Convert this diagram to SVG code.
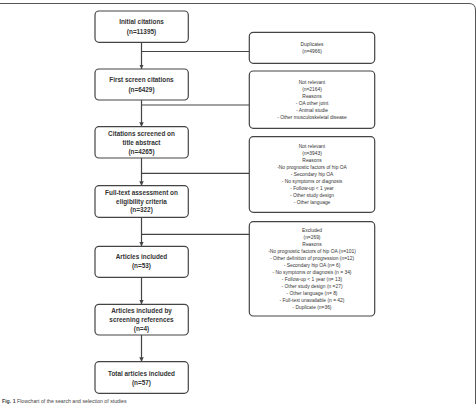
<svg xmlns="http://www.w3.org/2000/svg" width="476" height="404" viewBox="0 0 476 404">
<defs>
<style>
.frame{fill:none;stroke:#555;stroke-width:1}
.box{fill:#fff;stroke:#444;stroke-width:1.2}
.lt{font-family:"Liberation Sans",Arial,sans-serif;font-weight:bold;font-size:6.4px;fill:#333;text-anchor:middle}
.rt{font-family:"Liberation Sans",Arial,sans-serif;font-size:4.9px;fill:#333;text-anchor:middle}
.cap{font-family:"Liberation Sans",Arial,sans-serif;font-size:5.2px;fill:#444}
.ln{fill:none;stroke:#444;stroke-width:1.2}
</style>
<marker id="ah" viewBox="0 0 10 10" refX="10" refY="5" markerWidth="4.5" markerHeight="4.5" orient="auto" markerUnits="userSpaceOnUse">
<path d="M0,0 L10,5 L0,10 z" fill="#444"/>
</marker>
</defs>
<rect width="476" height="404" fill="#fff"/>
<path class="frame" d="M0,3.5 H469 Q475.5,3.5 475.5,10 V404"/>
<g id="connectors">
<line class="ln" x1="141.5" y1="42.3" x2="141.5" y2="69" marker-end="url(#ah)"/>
<line class="ln" x1="141.5" y1="51.5" x2="249.3" y2="51.5"/>
<line class="ln" x1="141.5" y1="100" x2="141.5" y2="126.7" marker-end="url(#ah)"/>
<line class="ln" x1="141.5" y1="105" x2="249.3" y2="105"/>
<line class="ln" x1="141.5" y1="158" x2="141.5" y2="185.7" marker-end="url(#ah)"/>
<line class="ln" x1="141.5" y1="173.3" x2="249.3" y2="173.3"/>
<line class="ln" x1="141.5" y1="217.3" x2="141.5" y2="246.3" marker-end="url(#ah)"/>
<line class="ln" x1="141.5" y1="234.3" x2="249.3" y2="234.3"/>
<line class="ln" x1="141.5" y1="277.3" x2="141.5" y2="304.3" marker-end="url(#ah)"/>
<line class="ln" x1="141.5" y1="335" x2="141.5" y2="361.7" marker-end="url(#ah)"/>
</g>
<g id="n1"><rect class="box" x="95" y="11" width="93.3" height="31.3" rx="4"/>
<text class="lt" x="141.5" y="24.3">Initial citations</text>
<text class="lt" x="141.5" y="33.5">(n=11395)</text></g>
<g id="n2"><rect class="box" x="95" y="69" width="93.3" height="31" rx="4"/>
<text class="lt" x="141.5" y="82.3">First screen citations</text>
<text class="lt" x="141.5" y="91.5">(n=6429)</text></g>
<g id="n3"><rect class="box" x="95" y="126.7" width="93.3" height="31.3" rx="4"/>
<text class="lt" x="141.5" y="136">Citations screened on</text>
<text class="lt" x="141.5" y="145">title abstract</text>
<text class="lt" x="141.5" y="154">(n=4265)</text></g>
<g id="n4"><rect class="box" x="95" y="185.7" width="93.3" height="31.6" rx="4"/>
<text class="lt" x="141.5" y="195">Full-text assessment on</text>
<text class="lt" x="141.5" y="203.6">eligibility criteria</text>
<text class="lt" x="141.5" y="212.3">(n=322)</text></g>
<g id="n5"><rect class="box" x="95" y="246.3" width="93.3" height="31" rx="4"/>
<text class="lt" x="141.5" y="259.3">Articles included</text>
<text class="lt" x="141.5" y="268.3">(n=53)</text></g>
<g id="n6"><rect class="box" x="95" y="304.3" width="93.3" height="30.7" rx="4"/>
<text class="lt" x="141.5" y="313.3">Articles included by</text>
<text class="lt" x="141.5" y="322.3">screening references</text>
<text class="lt" x="141.5" y="331.3">(n=4)</text></g>
<g id="n7"><rect class="box" x="95" y="361.7" width="93.3" height="31.6" rx="4"/>
<text class="lt" x="141.5" y="375.6">Total articles included</text>
<text class="lt" x="141.5" y="384.6">(n=57)</text></g>
<g id="r1"><rect class="box" x="249.3" y="32.3" width="125.4" height="31" rx="4"/>
<text class="rt" x="312" y="45.8">Duplicates</text>
<text class="rt" x="312" y="53">(n=4966)</text></g>
<g id="r2"><rect class="box" x="249.3" y="71" width="125.4" height="57.3" rx="4"/>
<text class="rt" x="312" y="83.5">Not relevant</text>
<text class="rt" x="312" y="90.8">(n=2164)</text>
<text class="rt" x="312" y="97.8">Reasons</text>
<text class="rt" x="312" y="104.8">- OA other joint</text>
<text class="rt" x="312" y="111.8">- Animal studie</text>
<text class="rt" x="312" y="119">- Other musculoskeletal disease</text></g>
<g id="r3"><rect class="box" x="249.3" y="136.7" width="125.4" height="75.6" rx="4"/>
<text class="rt" x="312" y="147.8">Not relevant</text>
<text class="rt" x="312" y="155">(n=3943)</text>
<text class="rt" x="312" y="161.8">Reasons</text>
<text class="rt" x="312" y="168.8">-No prognostic factors of hip OA</text>
<text class="rt" x="312" y="175.8">- Secondary hip OA</text>
<text class="rt" x="312" y="183">- No symptoms or diagnosis</text>
<text class="rt" x="312" y="190">- Follow-up &lt; 1 year</text>
<text class="rt" x="312" y="197">- Other study design</text>
<text class="rt" x="312" y="204">- Other language</text></g>
<g id="r4"><rect class="box" x="249.3" y="221.7" width="125.4" height="94.3" rx="4"/>
<text class="rt" x="312" y="231.5">Excluded</text>
<text class="rt" x="312" y="238.5">(n=269)</text>
<text class="rt" x="312" y="245.5">Reasons</text>
<text class="rt" x="312" y="253">-No prognostic factors of hip OA (n=101)</text>
<text class="rt" x="312" y="259.8">- Other definition of progression (n=12)</text>
<text class="rt" x="312" y="267">- Secondary hip OA (n= 6)</text>
<text class="rt" x="312" y="274">- No symptoms or diagnosis (n = 34)</text>
<text class="rt" x="312" y="281">- Follow-up &lt; 1 year (n= 13)</text>
<text class="rt" x="312" y="288">- Other study design (n =27)</text>
<text class="rt" x="312" y="295">- Other language (n= 8)</text>
<text class="rt" x="312" y="302">- Full-text unavailable (n = 42)</text>
<text class="rt" x="312" y="309">- Duplicate (n=36)</text></g>
<text class="cap" x="2" y="402.6"><tspan font-weight="bold">Fig. 1</tspan> Flowchart of the search and selection of studies</text>
</svg>
